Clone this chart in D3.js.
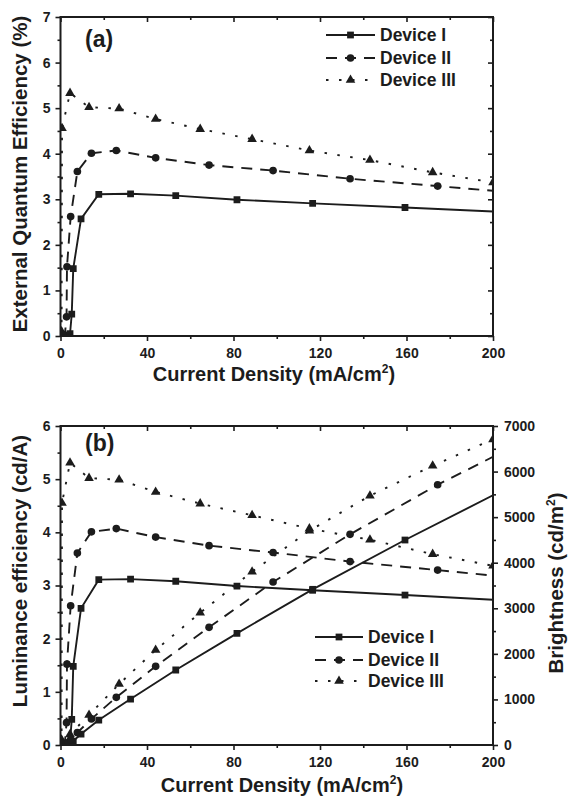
<!DOCTYPE html>
<html><head><meta charset="utf-8">
<script src="https://cdn.jsdelivr.net/npm/d3@7"></script>
<style>
body{margin:0;background:#fff}
svg{display:block}
text{font-family:"Liberation Sans",Arial,sans-serif;font-weight:bold;fill:#1c1c1c}
</style>
</head><body><svg id="c" width="568" height="797"></svg>
<script>
// ---------- data ----------
const seriesNames = ["Device I", "Device II", "Device III"];
const xTicks = [0, 40, 80, 120, 160, 200];
const xMinor = [20, 60, 100, 140, 180];
const eqeTicks = [0, 1, 2, 3, 4, 5, 6, 7];
const leTicks = [0, 1, 2, 3, 4, 5, 6];
const brTicks = [0, 1000, 2000, 3000, 4000, 5000, 6000, 7000];

// current density (mA/cm2)
const jI   = [1.0, 3.0, 4.4, 5.2, 5.9, 9.5, 17.7, 32.4, 53.3, 81.6, 116.6, 159.3, 205];
const jII  = [0.5, 2.0, 2.8, 3.0, 4.7, 7.8, 14.3, 25.8, 44.0, 68.7, 98.3, 133.9, 174.4, 204];
const jIII = [0.2, 0.5, 0.7, 4.4, 13.2, 27.1, 44.0, 64.6, 88.6, 115.1, 143.1, 172.1, 200];

// (a) external quantum efficiency (%)
const eqeI   = [0.0, 0.01, 0.05, 0.48, 1.48, 2.57, 3.11, 3.12, 3.08, 2.99, 2.91, 2.82, 2.72];
const eqeII  = [0.0, 0.02, 0.42, 1.52, 2.62, 3.61, 4.01, 4.07, 3.91, 3.75, 3.63, 3.45, 3.29, 3.17];
const eqeIII = [0.02, 0.1, 4.56, 5.33, 5.02, 4.99, 4.76, 4.54, 4.32, 4.07, 3.86, 3.59, 3.37];

// (b) luminance efficiency (cd/A)
const leI   = [0.0, 0.01, 0.05, 0.48, 1.48, 2.57, 3.11, 3.12, 3.08, 2.99, 2.91, 2.82, 2.72];
const leII  = [0.0, 0.02, 0.42, 1.52, 2.62, 3.61, 4.01, 4.07, 3.91, 3.75, 3.62, 3.45, 3.29, 3.17];
const leIII = [0.02, 0.1, 4.55, 5.31, 5.02, 4.99, 4.76, 4.54, 4.32, 4.07, 3.86, 3.59, 3.37];

// (b) brightness (cd/m2)
const brI   = [0, 0, 2, 25, 87, 241, 548, 1009, 1646, 2450, 3416, 4498, 5600];
const brII  = [0, 0.4, 12, 46, 123, 270, 573, 1046, 1726, 2582, 3576, 4623, 5711, 6420];
const brIII = [0, 0.5, 32, 235, 658, 1338, 2084, 2902, 3803, 4702, 5470, 6128, 6707];

// ---------- drawing ----------
const svg = d3.select("#c");
const ink = "#1c1c1c";
const L = 60.5, R = 493;
const styles = [
  {dash: null, sym: d3.symbolSquare, size: 46},
  {dash: "11,8", sym: d3.symbolCircle, size: 46},
  {dash: "2.5,10.5", sym: d3.symbolTriangle, size: 40}
];

const x = d3.scaleLinear().domain([0, 200]).range([L, R]);

function zip(a, b) { return a.map((v, i) => [v, b[i]]); }

function axesFrame(g, y, yTicks, yMinor, rightMirror, T, B) {
  g.append("g").attr("transform", `translate(0,${B})`)
    .call(d3.axisBottom(x).tickValues(xTicks).tickSize(5).tickPadding(7))
    .call(s => s.select(".domain").remove());
  g.append("g").attr("transform", `translate(0,${B})`)
    .call(d3.axisBottom(x).tickValues(xMinor).tickSize(3).tickFormat(""))
    .call(s => s.select(".domain").remove());
  g.append("g").attr("transform", `translate(0,${T})`)
    .call(d3.axisTop(x).tickValues(xTicks).tickSize(-5).tickFormat(""))
    .call(s => s.select(".domain").remove());
  g.append("g").attr("transform", `translate(0,${T})`)
    .call(d3.axisTop(x).tickValues(xMinor).tickSize(-3).tickFormat(""))
    .call(s => s.select(".domain").remove());
  g.append("g").attr("transform", `translate(${L},0)`)
    .call(d3.axisLeft(y).tickValues(yTicks).tickSize(5).tickPadding(5).tickFormat(d3.format("d")))
    .call(s => s.select(".domain").remove());
  g.append("g").attr("transform", `translate(${L},0)`)
    .call(d3.axisLeft(y).tickValues(yMinor).tickSize(3).tickFormat(""))
    .call(s => s.select(".domain").remove());
  if (rightMirror) {
    g.append("g").attr("transform", `translate(${R},0)`)
      .call(d3.axisRight(y).tickValues(yTicks).tickSize(-5).tickFormat(""))
      .call(s => s.select(".domain").remove());
    g.append("g").attr("transform", `translate(${R},0)`)
      .call(d3.axisRight(y).tickValues(yMinor).tickSize(-3).tickFormat(""))
      .call(s => s.select(".domain").remove());
  }
}

function drawSeries(g, clipId, y, datasets) {
  const pg = g.append("g").attr("clip-path", `url(#${clipId})`);
  const line = d3.line().x(d => x(d[0])).y(d => y(d[1]));
  datasets.forEach((pts, i) => {
    const st = styles[i];
    pg.append("path").attr("d", line(pts)).attr("fill", "none")
      .attr("stroke", ink).attr("stroke-width", 1.9)
      .attr("stroke-dasharray", st.dash);
    pg.selectAll(null).data(pts).join("path")
      .attr("transform", d => `translate(${x(d[0])},${y(d[1])})`)
      .attr("d", d3.symbol().type(st.sym).size(st.size)())
      .attr("fill", ink);
  });
}

function legend(g, x0, x1, tx, rows) {
  seriesNames.forEach((n, i) => {
    const st = styles[i], yy = rows[i];
    g.append("line").attr("x1", x0).attr("x2", x1).attr("y1", yy).attr("y2", yy)
      .attr("stroke", ink).attr("stroke-width", 1.9).attr("stroke-dasharray", st.dash);
    g.append("path").attr("transform", `translate(${(x0 + x1) / 2},${yy})`)
      .attr("d", d3.symbol().type(st.sym).size(st.size)()).attr("fill", ink);
    g.append("text").attr("x", tx).attr("y", yy).attr("dy", "0.36em")
      .attr("font-size", 17.5).text(n);
  });
}

function xTitle(g, cx, yb) {
  const t = g.append("text").attr("x", cx).attr("y", yb).attr("text-anchor", "middle")
    .attr("font-size", 20);
  t.append("tspan").text("Current Density (mA/cm");
  t.append("tspan").attr("dy", -8).attr("font-size", 12).text("2");
  t.append("tspan").attr("dy", 8).text(")");
}

const defs = svg.append("defs");

// ===== panel (a) =====
{
  const T = 17, B = 336;
  const y = d3.scaleLinear().domain([0, 7]).range([B, T]);
  defs.append("clipPath").attr("id", "clipA").append("rect")
    .attr("x", L).attr("y", T).attr("width", R - L).attr("height", B - T);
  const g = svg.append("g");
  axesFrame(g, y, eqeTicks, d3.range(0.5, 7, 1), true, T, B);
  drawSeries(g, "clipA", y, [zip(jI, eqeI), zip(jII, eqeII), zip(jIII, eqeIII)]);
  g.append("rect").attr("x", L).attr("y", T).attr("width", R - L).attr("height", B - T)
    .attr("fill", "none").attr("stroke", ink).attr("stroke-width", 2);
  legend(g, 326, 375, 380, [35, 58, 80]);
  g.append("text").attr("x", 85).attr("y", 47).attr("font-size", 23).text("(a)");
  xTitle(g, 274, 381);
  g.append("text").attr("transform", "translate(20,174) rotate(-90)").attr("dy", "0.36em")
    .attr("text-anchor", "middle").attr("font-size", 20.5).text("External Quantum Efficiency (%)");
}

// ===== panel (b) =====
{
  const T = 426, B = 745;
  const y = d3.scaleLinear().domain([0, 6]).range([B, T]);
  const y2 = d3.scaleLinear().domain([0, 7000]).range([B, T]);
  defs.append("clipPath").attr("id", "clipB").append("rect")
    .attr("x", L).attr("y", T).attr("width", R - L).attr("height", B - T);
  const g = svg.append("g");
  axesFrame(g, y, leTicks, d3.range(0.5, 6, 1), false, T, B);
  g.append("g").attr("transform", `translate(${R},0)`)
    .call(d3.axisRight(y2).tickValues(brTicks).tickSize(5).tickPadding(6).tickFormat(d3.format("d")))
    .call(s => s.select(".domain").remove());
  g.append("g").attr("transform", `translate(${R},0)`)
    .call(d3.axisRight(y2).tickValues(d3.range(500, 7000, 1000)).tickSize(3).tickFormat(""))
    .call(s => s.select(".domain").remove());
  drawSeries(g, "clipB", y, [zip(jI, leI), zip(jII, leII), zip(jIII, leIII)]);
  drawSeries(g, "clipB", y2, [zip(jI, brI), zip(jII, brII), zip(jIII, brIII)]);
  g.append("rect").attr("x", L).attr("y", T).attr("width", R - L).attr("height", B - T)
    .attr("fill", "none").attr("stroke", ink).attr("stroke-width", 2);
  legend(g, 315, 363, 368, [637, 660, 681]);
  g.append("text").attr("x", 85).attr("y", 451).attr("font-size", 23).text("(b)");
  xTitle(g, 282, 792);
  g.append("text").attr("transform", "translate(20,571) rotate(-90)").attr("dy", "0.36em")
    .attr("text-anchor", "middle").attr("font-size", 20.5).text("Luminance efficiency (cd/A)");
  const bt = g.append("text").attr("transform", "translate(556,583) rotate(-90)").attr("dy", "0.36em")
    .attr("text-anchor", "middle").attr("font-size", 20.5);
  bt.append("tspan").text("Brightness (cd/m");
  bt.append("tspan").attr("dy", -8).attr("font-size", 12).text("2");
  bt.append("tspan").attr("dy", 8).text(")");
}

svg.selectAll(".tick line").attr("stroke", ink).attr("stroke-width", 1.6);
svg.selectAll(".tick text").attr("font-size", 14).attr("fill", ink)
  .style("font-family", '"Liberation Sans",Arial,sans-serif').style("font-weight", "bold");
svg.selectAll("g[font-family]").attr("font-family", null).attr("font-size", null);
</script>
</body></html>
